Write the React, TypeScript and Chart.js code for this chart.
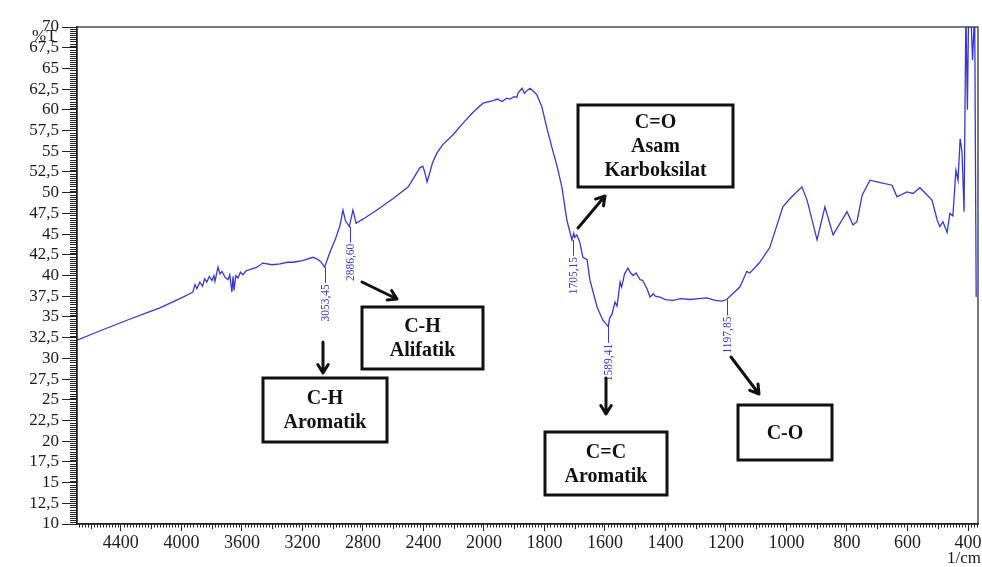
import React, { useEffect, useRef } from "react";
import { Chart, registerables } from "chart.js";
Chart.register(...registerables);

// ---- Data (wavenumber in 1/cm, transmittance in %T) ----
const wavenumbers = [
  4690, 4540, 4360, 4200, 4142, 4010, 3944, 3924, 3910, 3898, 3878, 3860, 3846, 3832, 3815, 3798, 3785, 3778,
  3758, 3745, 3732, 3712, 3692, 3680, 3666, 3658, 3652, 3640, 3626, 3610, 3594, 3570, 3548, 3500, 3462, 3400,
  3348, 3300, 3262, 3200, 3130, 3104, 3080, 3053, 3018, 2980, 2952, 2932, 2915, 2890, 2866, 2845, 2800, 2700,
  2600, 2500, 2424, 2404, 2390, 2376, 2358, 2340, 2310, 2272, 2204, 2138, 2072, 2006, 1970, 1955, 1940, 1925,
  1914, 1900, 1891, 1888, 1874, 1866, 1861, 1848, 1838, 1825, 1808, 1792, 1775, 1759, 1742, 1726, 1709, 1703,
  1700, 1693, 1683, 1673, 1659, 1650, 1626, 1607, 1593, 1589, 1585, 1577, 1567, 1560, 1550, 1545, 1535, 1524,
  1515, 1507, 1497, 1484, 1475, 1461, 1451, 1440, 1434, 1418, 1400, 1375, 1350, 1319, 1290, 1263, 1236, 1213,
  1198, 1154, 1131, 1121, 1088, 1055, 1012, 988, 949, 932, 899, 873, 846, 800, 780, 767, 750, 724, 701, 651,
  635, 602, 582, 559, 519, 502, 493, 483, 469, 460, 450, 440, 433, 426, 420, 413, 407, 402, 398, 391, 385, 378,
  373,
];
const transmittance = [
  32.2, 33.3, 34.6, 35.7, 36.1, 37.2, 37.8, 38.0, 38.9, 38.4, 39.2, 38.7, 39.6, 39.2, 39.9, 39.4, 40.0, 39.3,
  41.0, 40.2, 40.5, 39.8, 39.5, 40.1, 38.0, 39.9, 38.2, 40.0, 39.7, 40.4, 40.1, 40.6, 40.7, 41.0, 41.5, 41.3,
  41.4, 41.6, 41.6, 41.8, 42.2, 42.0, 41.7, 41.0, 42.8, 44.5, 46.0, 47.9, 46.6, 45.9, 47.9, 46.3, 46.8, 48.0,
  49.3, 50.7, 53.0, 53.2, 52.4, 51.3, 52.4, 53.6, 54.8, 55.8, 57.0, 58.4, 59.7, 60.8, 61.1, 61.3, 61.0, 61.4,
  61.3, 61.6, 61.5, 62.0, 62.6, 62.0, 62.2, 62.6, 62.3, 61.8, 60.3, 57.8, 55.4, 53.3, 50.6, 46.7, 44.3, 45.1,
  44.6, 44.9, 44.0, 42.2, 41.9, 39.5, 36.2, 34.6, 34.0, 33.8, 34.8, 35.3, 36.8, 36.3, 39.2, 38.6, 40.2, 40.9,
  40.3, 40.0, 40.3, 39.5, 39.4, 38.4, 37.4, 37.8, 37.5, 37.4, 37.1, 37.0, 37.2, 37.1, 37.2, 37.3, 37.0, 36.9,
  37.1, 38.6, 40.5, 40.3, 41.6, 43.4, 48.3, 49.3, 50.7, 49.1, 44.3, 48.3, 44.9, 47.7, 46.1, 46.5, 49.7, 51.5, 51.3, 50.9,
  49.5, 50.1, 49.9, 50.6, 49.1, 46.7, 45.9, 46.5, 45.2, 47.5, 47.2, 52.7, 51.5, 56.5, 55.0, 47.7, 72, 60, 72, 72, 66, 72,
  37.4,
];

// Marked peaks
const peakWavenumbers = [3053.45, 2886.6, 1705.15, 1589.41, 1197.85];
const peakTransmittance = [41.0, 45.9, 44.3, 33.8, 37.1];
const peakLabels = ["3053,45", "2886,60", "1705,15", "1589,41", "1197,85"];

// Axis ticks (wavenumbers shown on the x axis)
const xTickWavenumbers = [4400, 4000, 3600, 3200, 2800, 2400, 2000, 1800, 1600, 1400, 1200, 1000, 800, 600, 400];
const xLeftWavenumber = 4690;
const xRightWavenumber = 367;
const yMin = 10;
const yMax = 70;
const yStep = 2.5;

// Annotation boxes (group assignments)
const boxTexts = [["C-H", "Aromatik"], ["C-H", "Alifatik"], ["C=O", "Asam", "Karboksilat"], ["C=C", "Aromatik"], ["C-O"]];
const boxRects = [
  [263, 378, 124, 64],
  [362, 307, 121, 62],
  [578, 105, 155, 82],
  [545, 432, 122, 63],
  [738, 405, 94, 55],
];
const arrows = [
  [323, 342, 323, 373],
  [362, 282, 397, 299],
  [578, 228, 605, 196],
  [606, 378, 606, 414],
  [731, 357, 759, 394],
];

// Shimadzu-style split axis: above 2000 1/cm the scale is compressed by half
const toAxis = (w: number) => (w <= 2000 ? w : 2000 + (w - 2000) / 2);
const fromAxis = (u: number) => (u <= 2000 ? u : 2000 + (u - 2000) * 2);

const SERIF = '"Liberation Serif", "Times New Roman", serif';
const INK = "#1a1a1a";
const BLUE = "#3636dc";

const decorPlugin = {
  id: "decor",
  afterDraw(chart: any) {
    const { ctx, chartArea, scales } = chart;
    const xs = scales.x;
    const ys = scales.y;
    ctx.save();
    // frame
    ctx.strokeStyle = "#222";
    ctx.lineWidth = 1.2;
    ctx.strokeRect(chartArea.left, chartArea.top, chartArea.right - chartArea.left, chartArea.bottom - chartArea.top);

    // minor x ticks
    ctx.lineWidth = 1;
    ctx.beginPath();
    for (let u = Math.ceil(xs.min / 10) * 10; u <= xs.max; u += 10) {
      if (u % 200 === 0) continue;
      const len = u % 100 === 0 ? 5 : 3.5;
      const px = Math.round(xs.getPixelForValue(u)) + 0.5;
      ctx.moveTo(px, chartArea.bottom);
      ctx.lineTo(px, chartArea.bottom + len);
    }
    // minor y ticks
    for (let v = yMin; v <= yMax + 1e-6; v += 0.25) {
      if (Math.abs(v / yStep - Math.round(v / yStep)) < 1e-6) continue;
      const py = Math.round(ys.getPixelForValue(v)) + 0.5;
      ctx.moveTo(chartArea.left, py);
      ctx.lineTo(chartArea.left - 7, py);
    }
    ctx.stroke();

    // axis titles
    ctx.fillStyle = INK;
    ctx.font = `17px ${SERIF}`;
    ctx.textAlign = "left";
    ctx.textBaseline = "alphabetic";
    ctx.fillText("%T", 32, 41);
    ctx.textAlign = "right";
    ctx.fillText("1/cm", 981, 563);

    // peak labels
    ctx.strokeStyle = BLUE;
    ctx.fillStyle = BLUE;
    ctx.lineWidth = 1;
    ctx.font = `11.5px ${SERIF}`;
    peakWavenumbers.forEach((w, i) => {
      const px = Math.round(xs.getPixelForValue(toAxis(w))) + 0.5;
      const py = ys.getPixelForValue(peakTransmittance[i]);
      ctx.beginPath();
      ctx.moveTo(px, py);
      ctx.lineTo(px, py + 16);
      ctx.stroke();
      ctx.save();
      ctx.translate(px, py + 17);
      ctx.rotate(-Math.PI / 2);
      ctx.textAlign = "right";
      ctx.textBaseline = "middle";
      ctx.fillText(peakLabels[i], 0, 0);
      ctx.restore();
    });

    // arrows
    ctx.strokeStyle = "#111";
    ctx.lineWidth = 3;
    ctx.lineCap = "round";
    ctx.lineJoin = "round";
    arrows.forEach(([x1, y1, x2, y2]) => {
      const ang = Math.atan2(y2 - y1, x2 - x1);
      const head = 10;
      ctx.beginPath();
      ctx.moveTo(x1, y1);
      ctx.lineTo(x2, y2);
      ctx.moveTo(x2 - head * Math.cos(ang - 0.55), y2 - head * Math.sin(ang - 0.55));
      ctx.lineTo(x2, y2);
      ctx.lineTo(x2 - head * Math.cos(ang + 0.55), y2 - head * Math.sin(ang + 0.55));
      ctx.stroke();
    });

    // boxes
    ctx.lineWidth = 3;
    ctx.lineCap = "butt";
    ctx.lineJoin = "miter";
    ctx.font = `bold 20px ${SERIF}`;
    ctx.textAlign = "center";
    ctx.textBaseline = "middle";
    boxRects.forEach(([bx, by, bw, bh], i) => {
      ctx.fillStyle = "#fff";
      ctx.fillRect(bx, by, bw, bh);
      ctx.strokeRect(bx, by, bw, bh);
      ctx.fillStyle = "#111";
      const lines = boxTexts[i];
      const cx = bx + bw / 2;
      const cy = by + bh / 2;
      const lh = 24;
      lines.forEach((t, j) => {
        ctx.fillText(t, cx, cy + (j - (lines.length - 1) / 2) * lh + 1);
      });
    });
    ctx.restore();
  },
};

export default function App() {
  const ref = useRef<HTMLCanvasElement>(null);
  useEffect(() => {
    const points = wavenumbers.map((w, i) => ({ x: toAxis(w), y: transmittance[i] }));
    const chart = new Chart(ref.current as HTMLCanvasElement, {
      type: "line",
      data: {
        datasets: [
          {
            data: points,
            borderColor: BLUE,
            borderWidth: 1.3,
            pointRadius: 0,
            tension: 0,
            fill: false,
          },
        ],
      },
      options: {
        animation: false,
        responsive: false,
        devicePixelRatio: 1,
        layout: { padding: { left: 0, right: 4, top: 27, bottom: 0 } },
        plugins: { legend: { display: false }, tooltip: { enabled: false } },
        scales: {
          x: {
            type: "linear",
            reverse: true,
            min: toAxis(xRightWavenumber),
            max: toAxis(xLeftWavenumber),
            afterFit: (s: any) => {
              s.height = 43;
              s.paddingLeft = 0;
              s.paddingRight = 0;
            },
            afterBuildTicks: (s: any) => {
              s.ticks = xTickWavenumbers.map((w) => ({ value: toAxis(w) }));
            },
            ticks: {
              autoSkip: false,
              maxRotation: 0,
              padding: 1,
              color: INK,
              font: { family: SERIF, size: 18 },
              callback: (v: any) => String(fromAxis(Number(v))),
            },
            grid: { drawOnChartArea: false, drawTicks: true, tickLength: 7, color: "#222", lineWidth: 1 },
            border: { color: "#222", width: 1.5 },
          } as any,
          y: {
            min: yMin,
            max: yMax,
            afterFit: (s: any) => {
              s.width = 77;
              s.paddingTop = 0;
              s.paddingBottom = 0;
            },
            ticks: {
              stepSize: yStep,
              autoSkip: false,
              padding: 3,
              color: INK,
              font: { family: SERIF, size: 17 },
              callback: (v: any) => String(v).replace(".", ","),
            },
            grid: { drawOnChartArea: false, drawTicks: true, tickLength: 15, color: "#222", lineWidth: 1 },
            border: { color: "#222", width: 1.5 },
          },
        },
      },
      plugins: [decorPlugin],
    });
    return () => chart.destroy();
  }, []);
  return (
    <div style={{ position: "absolute", left: 0, top: 0, width: 982, height: 567, background: "#fff" }}>
      <canvas ref={ref} width={982} height={567} style={{ display: "block" }} />
    </div>
  );
}
